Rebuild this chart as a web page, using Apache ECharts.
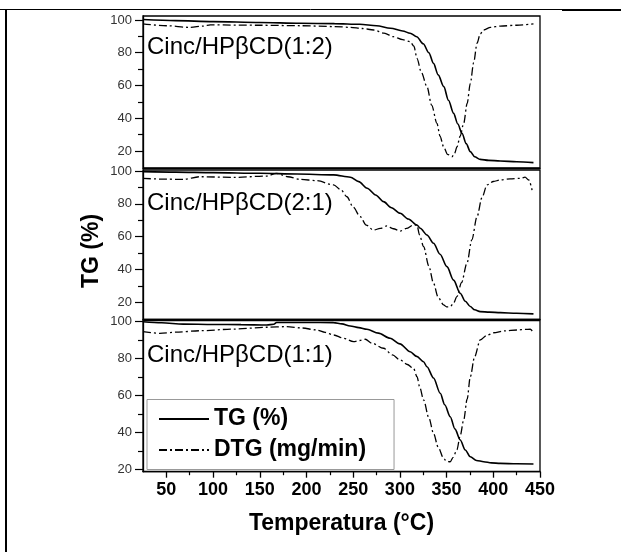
<!DOCTYPE html>
<html><head><meta charset="utf-8">
<script src="https://cdn.jsdelivr.net/npm/echarts@6/dist/echarts.min.js"></script>
<style>html,body{margin:0;padding:0;background:#fff}#c{width:621px;height:552px}</style>
</head><body><div id="c"></div><script>
// ---- data ----
const panelLabels = ['Cinc/HPβCD(1:2)', 'Cinc/HPβCD(2:1)', 'Cinc/HPβCD(1:1)'];
const seriesNames = ['TG (%)', 'DTG (mg/min)'];
const xTitle = 'Temperatura (°C)';
const yTitle = 'TG (%)';
const xTickValues = [50, 100, 150, 200, 250, 300, 350, 400, 450];
const xMinorValues = [75, 125, 175, 225, 275, 325, 375, 425];
const yTickValues = [20, 40, 60, 80, 100];
const yMinorValues = [30, 50, 70, 90];

// Panel 1: Cinc/HPβCD(1:2)
const p1TempTG = [25,60,100,150,193,230,257,275,290,303,311,318,325,331,336,341,347,352,357.5,362,366.5,371,375.4,380,386,395,407.5,425,443];
const p1TG     = [100.3,99.6,99.0,98.5,98.0,97.8,97.4,96.5,95.0,93.3,91.9,89.8,85.5,80,73.5,66.5,59.3,51,43,36.5,30.8,24.5,19.6,16.5,14.9,14.3,13.9,13.4,12.9];
const p1TempDTG = [25,50,75,90,97,150,193,230,247,260,272,283,293,303,311,315,318.3,323,329,334,339.7,343,346.8,351,355.8,358.5,361.2,364.5,368.3,372,375.4,379,382.6,386,389.7,397,407.5,425,443];
const p1DTG     = [97.6,96.5,95.5,96.3,97,96.8,96.5,96,95.5,94.8,93.9,92,89.8,88,86.8,84,76.6,68,59.3,48,36.9,29,22.6,18,16.5,18.5,22.6,29,36.9,49,61.3,74,85.8,91.5,93.9,95.5,96.3,96.8,97.6];

// Panel 2: Cinc/HPβCD(2:1)
const p2TempTG = [25,60,100,150,190,229,247,256,265,274,282.5,291,300.4,309,318.3,321.8,329,336,343,350.4,357.5,364.6,370,375.4,380,386,396,407.5,425,443];
const p2TG     = [99.6,99.3,99.0,98.6,98.2,97.6,96.2,93.5,89.5,85.4,81.3,77.6,74.2,70.7,67.1,65.1,61,56,49.3,41.7,33.5,25.5,20.6,17.4,15.4,14.3,14,13.7,13.3,12.9];
const p2TempDTG = [25,50,68,86,122,157.5,168,180,193,211,229,237,243.3,250,257.5,264,271.7,279,286,293,300.4,307,314.6,318.3,321,325.4,331,336,341,346.8,350,353.9,357.5,361,366,371.8,377,382.6,388,393.3,400,407.5,418,429,434,438,441.5];
const p2DTG     = [95.5,95.0,94.9,96.5,96.1,96.9,98.6,96.5,94.9,94.1,91.5,88.5,84.3,78,72.2,67,64,65,66.5,64.8,63.4,65,67.1,67.1,61,53.9,42,31.6,23,18.4,17.2,17.3,19.5,23.4,32,43.8,58,72.2,84,91.5,93.6,94.5,95.2,95.5,96.2,94.5,88.4];

// Panel 3: Cinc/HPβCD(1:1)
const p3TempTG = [25,45,68,100,130,157.5,165,168,200,229,238,246.8,256,264.7,277,289.6,300,311,318,325.3,329,336,343.2,348,353.9,359,364.6,370,375.4,382,389.7,398,407.5,425,443];
const p3TG     = [100,99.4,98.7,98.5,98.4,98.2,98.6,99.6,99.6,99.5,98.8,97.7,96.8,95.9,93.8,91,88,83.7,81.2,78.3,75.6,69.5,61.2,55,48.5,41.8,35.9,30.5,26.8,24.8,24.1,23.5,23.2,23.0,22.9];
const p3TempDTG = [25,43,60,86,122,157.5,179,195,211,220,229,240,250.4,257,263,270,282.5,292,300.4,308,314.6,318.3,321.5,325.4,331,336,341,346.8,350,353.9,357,361,364.5,368.3,372,375.4,380,386,393,400.3,412,425.4,434,439.6,443];
const p3DTG     = [94.6,93.7,94.3,95.1,96,97,97.3,96.6,95.5,94.2,92.8,91,89.2,89.8,90.5,88.4,85.6,82,79.2,76.8,74.7,70.2,64,57.6,48,39.5,32,26,24.3,24.1,26.5,30.5,38,46.7,58,70.2,81,90.1,92.6,94,95,95.5,95.8,95.9,94];

const panels = [
  { tgT: p1TempTG, tg: p1TG, dtgT: p1TempDTG, dtg: p1DTG },
  { tgT: p2TempTG, tg: p2TG, dtgT: p2TempDTG, dtg: p2DTG },
  { tgT: p3TempTG, tg: p3TG, dtgT: p3TempDTG, dtg: p3DTG }
];

// ---- layout / style ----
const FONT = '"Liberation Sans", Arial, Helvetica, sans-serif';
const GL = 143, GW = 397;
const gridLayout = [
  { top: 16, height: 152, yMin: 9.62, yMax: 102.44, labelY: 47 },
  { top: 170, height: 149.5, yMin: 9.5, yMax: 100.6, labelY: 203 },
  { top: 320.5, height: 151.2, yMin: 18.7, yMax: 100.65, labelY: 355 }
];
const zip = (a, b) => a.map((v, i) => [v, b[i]]);

const option = {
  animation: false,
  backgroundColor: '#fff',
  grid: [], xAxis: [], yAxis: [], series: [],
  legend: {
    data: seriesNames,
    orient: 'vertical',
    left: 147, top: 399.5,
    itemWidth: 50, itemHeight: 14, itemGap: 8,
    padding: [8, 28, 8, 11],
    borderColor: '#999', borderWidth: 1, backgroundColor: '#fff',
    selectedMode: false,
    itemStyle: { color: 'transparent', borderWidth: 0, opacity: 0 },
    textStyle: { fontSize: 23, fontWeight: 'bold', color: '#000', fontFamily: FONT, lineHeight: 22 }
  },
  graphic: []
};

gridLayout.forEach((g, i) => {
  const last = i === 2;
  option.grid.push({ left: GL, width: GW, top: g.top, height: g.height, show: true,
    borderColor: '#000', borderWidth: 1.3, backgroundColor: 'transparent', z: 3 });
  const xIdx = option.xAxis.length;
  option.xAxis.push({
    type: 'value', gridIndex: i, min: 25, max: 450, position: 'bottom',
    axisLine: { show: true, onZero: false, lineStyle: { color: '#000', width: 1.3 } },
    axisTick: { show: last, inside: false, length: 6, customValues: xTickValues, lineStyle: { color: '#000', width: 1.3 } },
    axisLabel: { show: last, customValues: xTickValues, margin: 9, color: '#000', fontWeight: 'bold', fontSize: 18, fontFamily: FONT },
    splitLine: { show: false },
    name: last ? xTitle : '', nameLocation: 'middle', nameGap: 40,
    nameTextStyle: { fontSize: 23, fontWeight: 'bold', color: '#000', fontFamily: FONT }
  });
  if (last) {
    option.xAxis.push({
      type: 'value', gridIndex: i, min: 25, max: 450, position: 'top', offset: -g.height,
      axisLine: { show: false }, axisLabel: { show: false }, splitLine: { show: false },
      axisTick: { show: true, inside: true, length: 3.5, customValues: xMinorValues, lineStyle: { color: '#000', width: 1.2 } }
    });
  }
  const yIdx = option.yAxis.length;
  option.yAxis.push({
    type: 'value', gridIndex: i, min: g.yMin, max: g.yMax, position: 'left',
    axisLine: { show: true, onZero: false, lineStyle: { color: '#000', width: 1.3 } },
    axisTick: { show: true, inside: false, length: 8, customValues: yTickValues, lineStyle: { color: '#000', width: 1.2 } },
    axisLabel: { show: true, customValues: yTickValues, margin: 11, color: '#333', fontSize: 13, fontFamily: FONT },
    splitLine: { show: false }
  });
  option.yAxis.push({
    type: 'value', gridIndex: i, min: g.yMin, max: g.yMax, position: 'right', offset: -GW,
    axisLine: { show: false }, axisLabel: { show: false }, splitLine: { show: false },
    axisTick: { show: true, inside: true, length: 5, customValues: yMinorValues, lineStyle: { color: '#000', width: 1.2 } }
  });
  const p = panels[i];
  option.series.push({
    type: 'line', name: seriesNames[0], xAxisIndex: xIdx, yAxisIndex: yIdx,
    data: zip(p.tgT, p.tg), symbol: 'none', smooth: 0.3, smoothMonotone: 'x',
    lineStyle: { color: '#000', width: 1.6 }, itemStyle: { color: '#000' }
  });
  option.series.push({
    type: 'line', name: seriesNames[1], xAxisIndex: xIdx, yAxisIndex: yIdx,
    data: zip(p.dtgT, p.dtg), symbol: 'none', smooth: 0.3, smoothMonotone: 'x',
    lineStyle: { color: '#000', width: 1.3, type: [8, 3, 2, 3] }, itemStyle: { color: '#000' }
  });
  option.graphic.push({
    type: 'text', x: 147, y: g.labelY, z: 10,
    style: { text: panelLabels[i], fontSize: 24, fontFamily: FONT, fill: '#000', verticalAlign: 'middle', align: 'left' }
  });
});

option.graphic.push(
  { type: 'text', x: 92, y: 251, rotation: Math.PI / 2, z: 10,
    style: { text: yTitle, fontSize: 23, fontWeight: 'bold', fontFamily: FONT, fill: '#000', align: 'center', verticalAlign: 'middle' } },
  { type: 'line', shape: { x1: 0, y1: 9.5, x2: 621, y2: 9.5 }, style: { stroke: '#000', lineWidth: 1 } },
  { type: 'line', shape: { x1: 562, y1: 10, x2: 621, y2: 10 }, style: { stroke: '#000', lineWidth: 2 } },
  { type: 'line', shape: { x1: 6, y1: 9, x2: 6, y2: 552 }, style: { stroke: '#000', lineWidth: 2 } }
);

const chart = echarts.init(document.getElementById('c'), null, { renderer: 'canvas' });
chart.setOption(option);
</script></body></html>
